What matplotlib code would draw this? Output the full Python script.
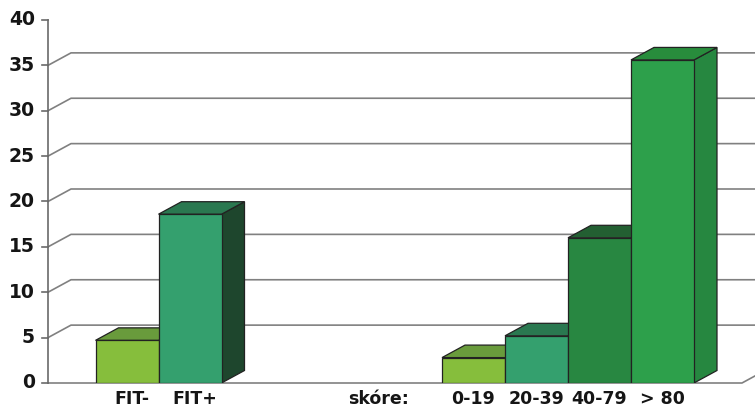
import matplotlib.pyplot as plt
from matplotlib.patches import Polygon, Rectangle
from matplotlib.transforms import blended_transform_factory

# FIT result groups and score ranges
fit_labels = ['FIT-', 'FIT+']
fit_values = [4.7, 18.6]
score_labels = ['0-19', '20-39', '40-79', '> 80']
score_values = [2.8, 5.2, 16.0, 35.6]
score_title = 'skóre:'
y_ticks = [0, 5, 10, 15, 20, 25, 30, 35, 40]

# (front, top, side) shades for each bar
fit_colors = [('#86be3c', '#699b3c', '#557f30'),
              ('#34a06e', '#2a7850', '#1e462d')]
score_colors = [('#86be3c', '#699b3c', '#557f30'),
                ('#34a06e', '#2a7850', '#1e462d'),
                ('#288741', '#235f32', '#1f5a30'),
                ('#2da04b', '#288c3c', '#268740')]

W, H = 755, 409
fig = plt.figure(figsize=(W / 100, H / 100), dpi=100)
ax_left, ax_right, ax_top, ax_bottom = 48, 742, 20, 383
ax = fig.add_axes([ax_left / W, (H - ax_bottom) / H,
                   (ax_right - ax_left) / W, (ax_bottom - ax_top) / H])
ax.set_axis_off()

bar_px = 63
x_lo = -(127 - ax_left) / bar_px
x_hi = x_lo + (ax_right - ax_left) / bar_px
ax.set_xlim(x_lo, x_hi)
ax.set_ylim(0, 40)

# depth of the 3D effect, converted from pixels to data units
dx = 23 / bar_px
dy = 12.5 * 40 / (ax_bottom - ax_top)
tick_len = 6 / bar_px

grid_col = '#808080'
# back wall gridlines with the slanted join to the axis
for v in y_ticks[1:-1]:
    ax.plot([x_lo, x_lo + dx, x_hi + 2 * dx], [v, v + dy, v + dy],
            color=grid_col, lw=1.2, clip_on=False, zorder=1)
# floor front edge and right corner
ax.plot([x_lo, x_hi, x_hi + dx], [0, 0, dy], color=grid_col, lw=1.2,
        clip_on=False, zorder=1)
# value axis with ticks
ax.plot([x_lo, x_lo], [0, 40], color='#6a6a6a', lw=1.2, clip_on=False, zorder=1)
for v in y_ticks:
    ax.plot([x_lo - tick_len, x_lo], [v, v], color='#6a6a6a', lw=1.2,
            clip_on=False, zorder=1)
    ax.text(x_lo - 13 / bar_px, v, str(v), ha='right', va='center',
            fontsize=13.5, fontweight='bold', color='#151515',
            family='DejaVu Sans')


def draw_bar(x, v, colors, z):
    front, top, side = colors
    ec = '#222222'
    ax.add_patch(Polygon([(x + 0.5, 0), (x + 0.5 + dx, dy),
                          (x + 0.5 + dx, v + dy), (x + 0.5, v)],
                         closed=True, fc=side, ec=ec, lw=0.9, zorder=z))
    ax.add_patch(Polygon([(x - 0.5, v), (x + 0.5, v),
                          (x + 0.5 + dx, v + dy), (x - 0.5 + dx, v + dy)],
                         closed=True, fc=top, ec=ec, lw=0.9, zorder=z))
    ax.add_patch(Rectangle((x - 0.5, 0), 1, v, fc=front, ec=ec, lw=0.9,
                           zorder=z + 0.5))


fit_x = list(range(len(fit_values)))
score_x = [5.5 + i for i in range(len(score_values))]

z = 2
for x, v, c in zip(fit_x, fit_values, fit_colors):
    draw_bar(x, v, c, z)
    z += 1
for x, v, c in zip(score_x, score_values, score_colors):
    draw_bar(x, v, c, z)
    z += 1

# category labels below the floor
lab_tr = blended_transform_factory(ax.transData, ax.transAxes)
lab_y = -21 / (ax_bottom - ax_top)
lab_kw = dict(transform=lab_tr, ha='center', va='baseline', fontsize=12.5,
              fontweight='bold', color='#151515', family='DejaVu Sans')
for x, lab in zip(fit_x, fit_labels):
    ax.text(x + 0.08, lab_y, lab, **lab_kw)
ax.text(score_x[0] - 1.5, lab_y, score_title, **lab_kw)
for x, lab in zip(score_x, score_labels):
    ax.text(x, lab_y, lab, **lab_kw)

fig.savefig('out.png', dpi=100)
